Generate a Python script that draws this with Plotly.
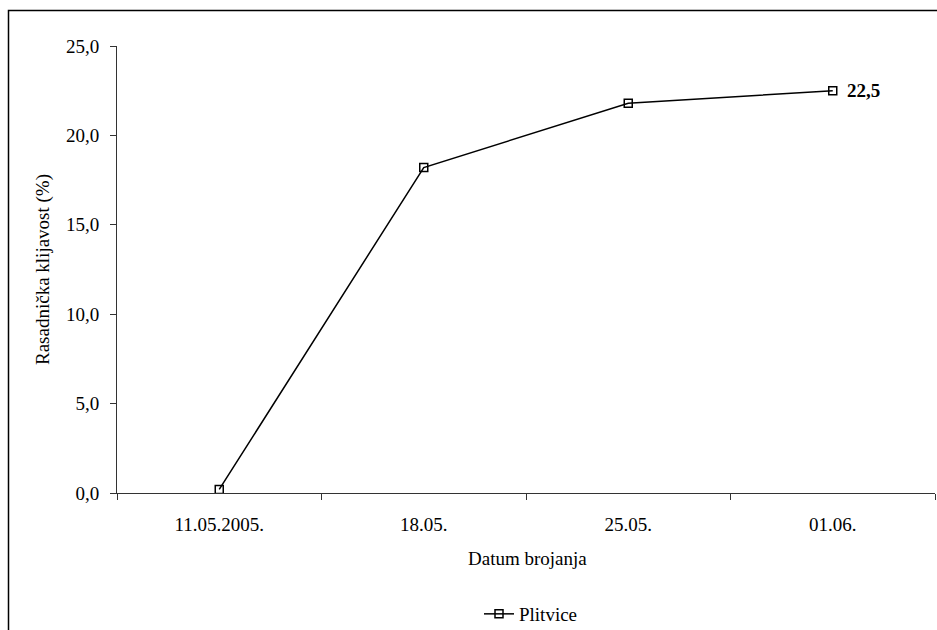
import plotly.graph_objects as go

categories = ["11.05.2005.", "18.05.", "25.05.", "01.06."]
values = [0.2, 18.2, 21.8, 22.5]
series_name = "Plitvice"
last_label = "22,5"

W, H = 937, 630
L, T = 117, 46
plot_right, plot_bottom = 935, 493
R, B = W - plot_right, H - plot_bottom
pw, ph = plot_right - L, plot_bottom - T


def px(x_page):
    return (x_page - L) / pw


def py(y_page):
    return (plot_bottom - y_page) / ph


fig = go.Figure()
fig.add_trace(go.Scatter(
    x=categories, y=values, name=series_name, mode="lines+markers",
    line=dict(color="black", width=1.5),
    marker=dict(symbol="square-open", size=8, color="black", line=dict(width=1.5, color="black")),
))

font = dict(family="Liberation Serif", size=19, color="black")

fig.update_layout(
    width=W, height=H,
    margin=dict(l=L, r=R, t=T, b=B, autoexpand=False),
    paper_bgcolor="white", plot_bgcolor="white",
    font=font,
    separators=", ",
    showlegend=True,
    legend=dict(orientation="h", x=px(479), xanchor="left",
                y=py(614), yanchor="middle", font=font,
                bgcolor="rgba(0,0,0,0)"),
    xaxis=dict(type="category", range=[-0.5, 3.5], showline=True, linecolor="#333",
               linewidth=1, ticks="outside", tickson="boundaries", ticklen=6,
               tickcolor="#333", showgrid=False, zeroline=False, tickfont=font,
               ticklabelstandoff=14, automargin=False),
    yaxis=dict(range=[0, 25], dtick=5, tickformat=".1f", showline=True, linecolor="#333",
               linewidth=1, ticks="outside", ticklen=6, tickcolor="#333",
               showgrid=False, zeroline=False, tickfont=font, ticklabelstandoff=7,
               automargin=False),
)

# y-axis title
fig.add_annotation(text="Rasadnička klijavost (%)", xref="paper", yref="paper",
                   x=px(43), y=py(270), textangle=-90, showarrow=False,
                   xanchor="center", yanchor="middle", font=font)
# x-axis title
fig.add_annotation(text="Datum brojanja", xref="paper", yref="paper",
                   x=px(527), y=py(558), showarrow=False,
                   xanchor="center", yanchor="middle", font=font)
# last value label
fig.add_annotation(text="<b>" + last_label + "</b>", x=categories[-1], y=values[-1],
                   xref="x", yref="y", showarrow=False, xanchor="left",
                   yanchor="middle", xshift=12, font=font)

# outer frame
fig.add_shape(type="rect", xref="paper", yref="paper",
              x0=px(8.5), x1=px(950),
              y0=py(650), y1=py(10.5),
              line=dict(color="black", width=1.5), fillcolor="rgba(0,0,0,0)", layer="below")

fig.write_html("out.html", config={"displayModeBar": False},
               post_script="document.body.style.margin='0';document.body.style.overflow='hidden';")
